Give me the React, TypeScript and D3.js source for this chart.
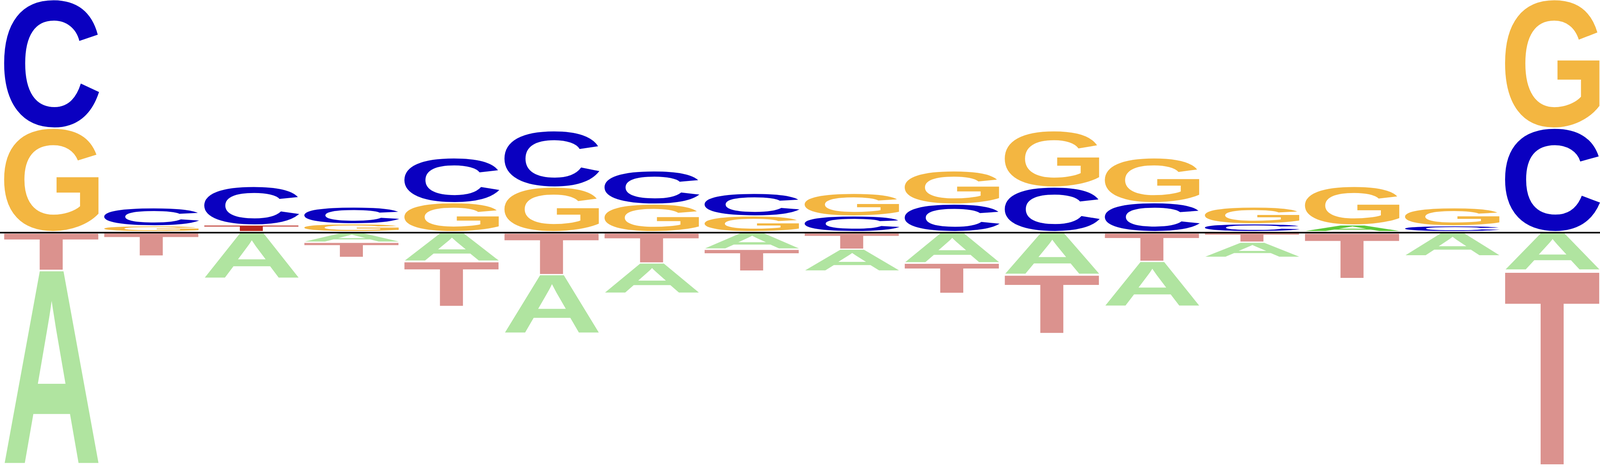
import * as d3 from 'd3';
import { useEffect, useRef } from 'react';

// motif positions and per-base heights (positive = above the line, negative = below)
const positions = ['1', '2', '3', '4', '5', '6', '7', '8', '9', '10', '11', '12', '13', '14', '15', '16'];
const bases = ['A', 'C', 'G', 'T'] as const;
const aValues = [-1.677, 0, -0.394, -0.081, -0.246, -0.508, -0.262, -0.141, -0.189, -0.26, -0.36, -0.389, -0.131, 0.057, -0.2, -0.323];
const cValues = [1.108, 0.155, 0.333, 0.145, 0.387, 0.485, 0.286, 0.195, 0.135, 0.237, 0.384, 0.249, 0.067, 0, 0.05, 0.892];
const gValues = [0.892, 0.05, 0, 0.067, 0.249, 0.384, 0.237, 0.135, 0.195, 0.286, 0.485, 0.387, 0.145, 0.333, 0.155, 1.108];
const tValues = [-0.323, -0.2, 0.057, -0.131, -0.389, -0.36, -0.26, -0.189, -0.141, -0.262, -0.508, -0.246, -0.081, -0.394, 0, -1.677];

const upColors: Record<string, string> = { A: '#5dc93b', C: '#0a00c0', G: '#f3b641', T: '#b8281e' };
const downColors: Record<string, string> = { A: '#b0e4a0', C: '#8a84dc', G: '#f8d9a0', T: '#db928e' };

const FONT = 'Liberation Sans';

export default function App() {
  const ref = useRef<SVGSVGElement | null>(null);

  useEffect(() => {
    const width = 4800;
    const height = 1200;
    const svg = d3.select(ref.current);
    svg.selectAll('*').remove();
    svg.attr('viewBox', `0 0 ${width} ${height}`).attr('preserveAspectRatio', 'none');

    const x = d3.scaleBand<string>().domain(positions).range([12, width]).paddingInner(0.05);
    const y = d3.scaleLinear().domain([-2, 2]).range([1188, 0]);

    // tight ink box of each glyph, so the letters can be stretched to their slot
    const ctx = document.createElement('canvas').getContext('2d')!;
    ctx.font = `bold 200px "${FONT}"`;
    const ink: Record<string, { l: number; r: number; t: number; b: number }> = {};
    bases.forEach((b) => {
      const m = ctx.measureText(b);
      ink[b] = { l: -m.actualBoundingBoxLeft, r: m.actualBoundingBoxRight, t: -m.actualBoundingBoxAscent, b: m.actualBoundingBoxDescent };
    });

    const table = bases.map((b) => ({ base: b, values: { A: aValues, C: cValues, G: gValues, T: tValues }[b] }));
    const gap = 3;
    const g = svg.append('g');

    positions.forEach((pos, i) => {
      const col = table.map((d) => ({ base: d.base, v: d.values[i] })).filter((d) => d.v !== 0);
      const ups = col.filter((d) => d.v > 0).sort((a, b) => a.v - b.v);
      const downs = col.filter((d) => d.v < 0).sort((a, b) => b.v - a.v);
      const x0 = x(pos)!;
      const w = x.bandwidth();

      const draw = (base: string, top: number, bottom: number, color: string) => {
        const h = bottom - top;
        if (h <= 0) return;
        const box = ink[base];
        const sx = w / (box.r - box.l);
        const sy = h / (box.b - box.t);
        g.append('text')
          .attr('font-family', FONT)
          .attr('font-weight', 'bold')
          .attr('font-size', 200)
          .attr('fill', color)
          .attr('transform', `translate(${x0},${top}) scale(${sx},${sy}) translate(${-box.l},${-box.t})`)
          .text(base);
      };

      let acc = 0;
      ups.forEach((d) => {
        const lo = y(acc);
        acc += d.v;
        const hi = y(acc);
        draw(d.base, hi, lo - gap, upColors[d.base]);
      });
      acc = 0;
      downs.forEach((d) => {
        const lo = y(acc);
        acc += d.v;
        const hi = y(acc);
        draw(d.base, lo + gap, hi, downColors[d.base]);
      });
    });

    svg.append('line')
      .attr('x1', 0)
      .attr('x2', width)
      .attr('y1', y(0) + 1.3)
      .attr('y2', y(0) + 1.3)
      .attr('stroke', '#000')
      .attr('stroke-width', 4);
  }, []);

  return (
    <svg
      ref={ref}
      style={{ position: 'absolute', left: 0, top: 0, width: '100vw', height: '100vh', display: 'block', background: '#fff' }}
      role="img"
      aria-label="Sequence logo"
    />
  );
}
